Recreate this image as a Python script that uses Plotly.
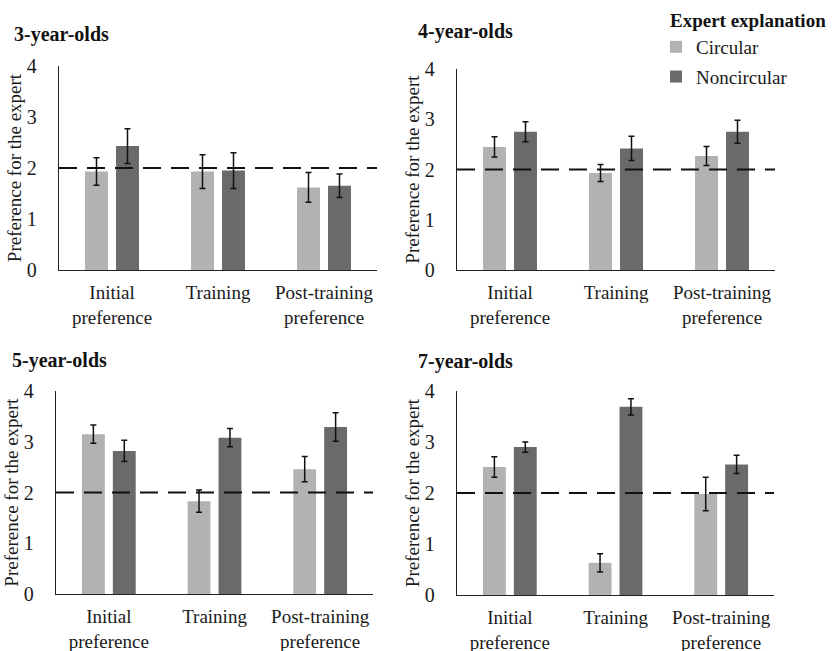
import plotly.graph_objects as go

categories = ["Initial<br>preference", "Training", "Post-training<br>preference"]
panel_titles = ["3-year-olds", "4-year-olds", "5-year-olds", "7-year-olds"]
series_names = ["Circular", "Noncircular"]
legend_title = "Expert explanation"

circular_means = [
    [1.93, 1.93, 1.62],
    [2.45, 1.93, 2.27],
    [3.15, 1.83, 2.46],
    [2.51, 0.63, 1.98],
]
circular_err = [
    [0.27, 0.33, 0.29],
    [0.20, 0.17, 0.19],
    [0.18, 0.22, 0.25],
    [0.20, 0.18, 0.33],
]
noncircular_means = [
    [2.43, 1.95, 1.65],
    [2.75, 2.42, 2.75],
    [2.82, 3.08, 3.29],
    [2.90, 3.69, 2.56],
]
noncircular_err = [
    [0.34, 0.35, 0.23],
    [0.20, 0.24, 0.23],
    [0.21, 0.18, 0.28],
    [0.10, 0.16, 0.18],
]
chance_level = 2
y_ticks = [0, 1, 2, 3, 4]

W, H = 838, 651
FONT = "Times New Roman, Liberation Serif, serif"
LIGHT = "#b2b2b2"
DARK = "#6a6a6a"

# pixel boxes: (left, right, top(y=4), bottom(y=0))
boxes = [
    (59, 377, 66, 270),
    (457, 775, 69, 270),
    (56, 373, 391, 594),
    (457, 774, 391, 595),
]
title_pos = [(12, 35), (416, 32), (10, 360), (416, 361)]

fig = go.Figure()
layout = dict(
    width=W, height=H,
    margin=dict(l=0, r=0, t=0, b=0, pad=0, autoexpand=False),
    plot_bgcolor="white", paper_bgcolor="white",
    barmode="group", bargap=0.415, bargroupgap=0.26,
    font=dict(family=FONT, size=18, color="#1a1a1a"),
    showlegend=True,
    legend=dict(
        x=656 / W, y=1 - 28 / H, xanchor="left", yanchor="top",
        font=dict(size=19, family=FONT),
        traceorder="grouped", tracegroupgap=2,
        itemwidth=30, bgcolor="rgba(0,0,0,0)",
    ),
    shapes=[], annotations=[],
)

for i in range(4):
    sfx = "" if i == 0 else str(i + 1)
    xa, ya = "x" + sfx, "y" + sfx
    l, r, t, b = boxes[i]
    for name, means, errs, col, grp in [
        (series_names[0], circular_means[i], circular_err[i], LIGHT, "c"),
        (series_names[1], noncircular_means[i], noncircular_err[i], DARK, "n"),
    ]:
        fig.add_trace(go.Bar(
            x=categories, y=means, name=name, marker=dict(color=col, line=dict(width=0)),
            error_y=dict(type="data", array=errs, visible=True, color="#111111",
                         thickness=1.5, width=3),
            xaxis=xa, yaxis=ya, legendgroup=grp, showlegend=(i == 0),
        ))
    layout["xaxis" + sfx] = dict(
        domain=[l / W, r / W], anchor=ya, showline=True, linecolor="#222222", linewidth=1.3,
        showgrid=False, ticks="", tickfont=dict(size=19, family=FONT), automargin=False,
        ticklabelstandoff=5, range=[-0.5, 2.5], fixedrange=True,
    )
    layout["yaxis" + sfx] = dict(
        domain=[1 - b / H, 1 - t / H], anchor=xa, range=[0, 4], tickvals=y_ticks,
        showline=True, linecolor="#222222", linewidth=1.3, showgrid=False, zeroline=False,
        ticks="", tickfont=dict(size=20, family=FONT), ticklabelstandoff=17, automargin=False,
        title=dict(text="Preference for the expert", font=dict(size=19, family=FONT), standoff=0),
    )
    layout["shapes"].append(dict(
        type="line", xref=xa + " domain", yref=ya, x0=0, x1=1, y0=chance_level, y1=chance_level,
        line=dict(color="#111111", width=2, dash="18px,10px"),
    ))
    tx, ty = title_pos[i]
    layout["annotations"].append(dict(
        text="<b>" + panel_titles[i] + "</b>", xref="paper", yref="paper",
        x=tx / W, y=1 - ty / H, xanchor="left", yanchor="middle", showarrow=False,
        font=dict(size=20, family=FONT, color="#111111"),
    ))

layout["annotations"].append(dict(
    text="<b>" + legend_title + "</b>", xref="paper", yref="paper",
    x=668 / W, y=1 - 20 / H, xanchor="left", yanchor="middle", showarrow=False,
    font=dict(size=19, family=FONT, color="#111111"),
))

fig.update_layout(**layout)
fig.write_html(
    "out.html",
    config={"displayModeBar": False},
    post_script="document.body.style.margin='0';document.body.style.overflow='hidden';",
)
